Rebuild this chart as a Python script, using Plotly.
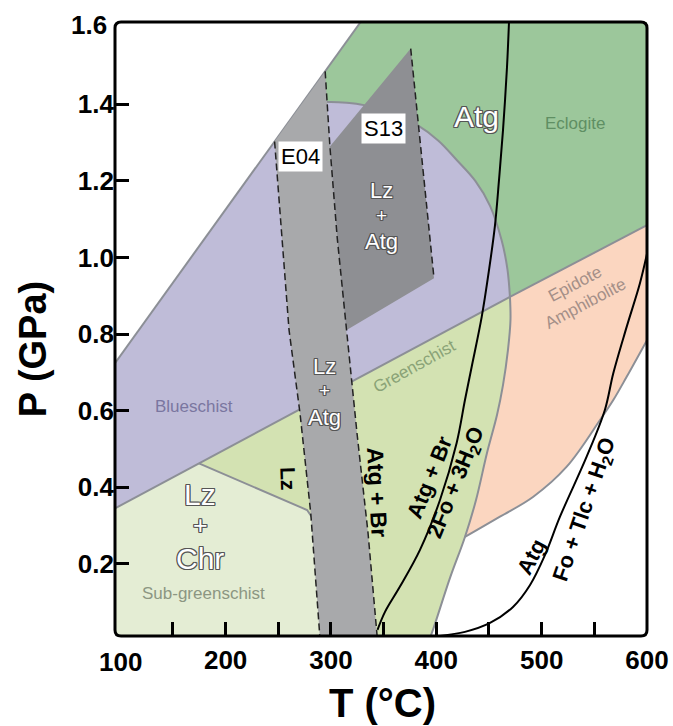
import plotly.graph_objects as go

# ---------------- data (T in degC, P in GPa) ----------------
T_RANGE = [95, 600]
P_RANGE = [0.012, 1.615]

X_TICKS = [150, 200, 250, 300, 350, 400, 450, 500, 550, 600]
X_TICK_TEXT = ["", "200", "", "300", "", "400", "", "500", "", "600"]
Y_TICKS = [0.2, 0.4, 0.6, 0.8, 1.0, 1.2, 1.4]
Y_TICK_TEXT = ["0.2", "0.4", "0.6", "0.8", "1.0", "1.2", "1.4"]

# upper-left limit of the facies fields
WHITE_LINE_T = [95, 328.2]
WHITE_LINE_P = [0.7245, 1.615]

# blueschist / eclogite dome
DOME_T = [270, 285, 297.8, 315, 331.4, 355, 382.5, 402, 419.6, 437, 451, 462, 467.5, 469.9]
DOME_P = [1.393, 1.403, 1.406, 1.404, 1.398, 1.38, 1.345, 1.305, 1.254, 1.20, 1.135, 1.045, 0.97, 0.8975]

# blueschist / greenschist boundary
BLUE_LOW_T = [95, 174.7, 469.9]
BLUE_LOW_P = [0.345, 0.4625, 0.8975]

# eclogite / epidote amphibolite boundary
ECL_EA_T = [469.9, 600]
ECL_EA_P = [0.8975, 1.0845]

# greenschist / epidote amphibolite boundary
GS_RIGHT_T = [469.9, 470.4, 468, 463.3, 457.6, 448.1, 437.7, 427.2, 413, 396.8, 393]
GS_RIGHT_P = [0.8975, 0.8367, 0.7584, 0.6671, 0.5888, 0.4897, 0.3671, 0.2706, 0.1637, 0.0279, 0.0]

# lower limit of epidote amphibolite
EA_LOW_T = [600, 580.7, 568, 555.4, 523.8, 492.1, 460.4, 427.2]
EA_LOW_P = [0.7845, 0.6888, 0.628, 0.5758, 0.454, 0.3757, 0.3235, 0.2706]

# sub-greenschist / greenschist boundary
SUBGS_T = [174.7, 277.3, 300, 310]
SUBGS_P = [0.4625, 0.341, 0.25, 0.0]

# E04 and S13 Lz + Atg fields
E04L_T = [246.5, 260.2, 270.6, 280.8, 289.2, 289.5]
E04L_P = [1.303, 0.811, 0.594, 0.333, 0.02, 0.0]
E04R_T = [294.5, 299, 306, 314.5, 318.5, 324.7, 335.2, 343.5, 344.2]
E04R_P = [1.486, 1.29, 1.05, 0.81, 0.714, 0.542, 0.281, 0.02, 0.0]
S13_T = [299, 375.7, 397.8, 314.5, 306]
S13_P = [1.29, 1.5455, 0.9463, 0.81, 1.05]

# reactions
ATGBR_T = [469, 467.1, 463.3, 459.5, 455.7, 450.0, 443.1, 433.6, 427.2, 419.3, 403.5, 384.5, 365.5, 351.3, 344.2]
ATGBR_P = [1.615, 1.497, 1.332, 1.202, 1.084, 0.967, 0.845, 0.715, 0.628, 0.516, 0.367, 0.237, 0.141, 0.075, 0.028]
FOTLC_T = [600, 593.3, 580.7, 568, 560, 542.7, 517.4, 503.2, 489.0, 472.8, 451.0, 427.2, 403.5]
FOTLC_P = [1.01, 0.933, 0.819, 0.698, 0.602, 0.48, 0.3235, 0.2236, 0.1453, 0.0879, 0.046, 0.0227, 0.0123]

# ---------------- styles ----------------
FONT = "Liberation Sans, Arial, sans-serif"
C_BLUE = "#bfbcd8"
C_ECL = "#9cc79b"
C_GS = "#d3e2b2"
C_SUB = "#e4edd4"
C_EA = "#fbd6c0"
C_E04 = "#a8a9ab"
C_S13 = "#8e8f93"
C_BND = "#8c8f96"
OUTLINE = ("1px 1px 0 #555, -1px -1px 0 #555, 1px -1px 0 #555, -1px 1px 0 #555, "
           "0 1px 0 #555, 0 -1px 0 #555, 1px 0 0 #555, -1px 0 0 #555")

fig = go.Figure()


def fill(t, p, color):
    fig.add_trace(go.Scatter(x=t, y=p, mode="lines", fill="toself", fillcolor=color,
                             line=dict(width=0, color=color), hoverinfo="skip", showlegend=False))


def line(t, p, color, width=2, dash=None, shape="linear"):
    fig.add_trace(go.Scatter(x=t, y=p, mode="lines",
                             line=dict(color=color, width=width, dash=dash, shape=shape),
                             hoverinfo="skip", showlegend=False))


# facies fields
fill([WHITE_LINE_T[0]] + DOME_T + [BLUE_LOW_T[0]], [WHITE_LINE_P[0]] + DOME_P + [BLUE_LOW_P[0]], C_BLUE)
fill([WHITE_LINE_T[1], T_RANGE[1], T_RANGE[1]] + DOME_T[::-1],
     [WHITE_LINE_P[1], P_RANGE[1], ECL_EA_P[1]] + DOME_P[::-1], C_ECL)
fill(ECL_EA_T + EA_LOW_T + GS_RIGHT_T[6::-1], ECL_EA_P + EA_LOW_P + GS_RIGHT_P[6::-1], C_EA)
fill(BLUE_LOW_T[1:] + GS_RIGHT_T[1:] + SUBGS_T[::-1], BLUE_LOW_P[1:] + GS_RIGHT_P[1:] + SUBGS_P[::-1], C_GS)
fill([BLUE_LOW_T[0], BLUE_LOW_T[0]] + SUBGS_T, [0.0, BLUE_LOW_P[0]] + SUBGS_P, C_SUB)

# facies boundaries
line(WHITE_LINE_T, WHITE_LINE_P, C_BND)
line(DOME_T, DOME_P, C_BND, shape="spline")
line(BLUE_LOW_T, BLUE_LOW_P, C_BND)
line(ECL_EA_T, ECL_EA_P, C_BND)
line(GS_RIGHT_T, GS_RIGHT_P, C_BND, shape="spline")
line(EA_LOW_T, EA_LOW_P, C_BND, shape="spline")
line(SUBGS_T, SUBGS_P, C_BND)

# Lz + Atg fields
fill(E04L_T + E04R_T[::-1], E04L_P + E04R_P[::-1], C_E04)
fill(S13_T, S13_P, C_S13)
line(E04L_T, E04L_P, "#222", width=1.5, dash="7px,4px")
line(E04R_T, E04R_P, "#222", width=1.5, dash="7px,4px")
line(S13_T[1:3], S13_P[1:3], "#222", width=1.5, dash="7px,4px")

# reactions
line(ATGBR_T, ATGBR_P, "black", width=2, shape="spline")
line(FOTLC_T, FOTLC_P, "black", width=2, shape="spline")

# ---------------- annotations ----------------
ann = []


def txt(x, y, s, size, color="black", angle=0, weight="normal", shadow=None, bg=None, xref="x", yref="y",
        xanchor="center", yanchor="middle"):
    f = dict(family=FONT, size=size, color=color, weight=weight)
    if shadow:
        f["shadow"] = shadow
    d = dict(x=x, y=y, xref=xref, yref=yref, text=s, showarrow=False, font=f, textangle=angle,
             xanchor=xanchor, yanchor=yanchor)
    if bg:
        d["bgcolor"] = bg
        d["borderpad"] = 2
    ann.append(d)


# region names
txt(531.6, 1.35, "Eclogite", 17, "#5f8f63")
txt(537.0, 0.905, "Epidote<br>Amphibolite", 17, "#a48f88", angle=-28)
txt(379.1, 0.715, "Greenschist", 17, "#8aa377", angle=-29)
txt(169.6, 0.6105, "Blueschist", 17, "#7a76a0")
txt(179.1, 0.1218, "Sub-greenschist", 17, "#8c9682")

# outlined labels
txt(438.0, 1.367, "Atg", 30, "white", shadow=OUTLINE)
for s, p, sz in zip(["Lz", "+", "Chr"], [0.381, 0.3019, 0.214], [30, 25, 30]):
    txt(175.7, p, s, sz, "white", shadow=OUTLINE)
for s, p, sz in zip(["Lz", "+", "Atg"], [0.716, 0.6522, 0.582], [22, 19, 22]):
    txt(293.9, p, s, sz, "white", shadow=OUTLINE)
for s, p, sz in zip(["Lz", "+", "Atg"], [1.174, 1.1088, 1.042], [22, 19, 22]):
    txt(348.4, p, s, sz, "white", shadow=OUTLINE)

# sample labels
txt(271.1, 1.263, "E04", 22, "black", bg="white")
txt(350.3, 1.3376, "S13", 22, "black", bg="white")

# reaction labels
txt(259.5, 0.4237, "Lz", 21, weight="bold", angle=88)
txt(344.2, 0.3887, "Atg + Br", 23, weight="bold", angle=87)
txt(394.0, 0.4279, "Atg + Br", 22, weight="bold", angle=-68)
txt(419.3, 0.4107, "2Fo + 3H<sub>2</sub>O", 22, weight="bold", angle=-68)
txt(490.5, 0.2192, "Atg", 22, weight="bold", angle=-62)
txt(541.1, 0.341, "Fo + Tlc + H<sub>2</sub>O", 22, weight="bold", angle=-71)

# axis labels at the corners and axis titles
txt(100, -0.0423, "100", 26, weight="bold", yref="paper")
txt(-0.0113, 1.607, "1.6", 26, weight="bold", xref="paper", xanchor="right")
txt(-0.154, 0.467, "P (GPa)", 38, weight="bold", angle=-90, xref="paper", yref="paper")
txt(0.502, -0.109, "T (°C)", 40, weight="bold", xref="paper", yref="paper")

axis_common = dict(showline=False, ticks="inside", ticklen=14, tickwidth=3, tickcolor="black",
                   showgrid=False, zeroline=False, automargin=False,
                   tickfont=dict(family=FONT, size=26, color="black", weight="bold"))

# rounded plot frame (paper coordinates)
RX, RY = 6 / 532, 6 / 614
frame_path = (f"M {RX},0 L {1 - RX},0 Q 1,0 1,{RY} L 1,{1 - RY} Q 1,1 {1 - RX},1 "
              f"L {RX},1 Q 0,1 0,{1 - RY} L 0,{RY} Q 0,0 {RX},0 Z")

fig.update_layout(
    template="none",
    width=673, height=726, autosize=False,
    margin=dict(l=115, r=26, t=22, b=90, autoexpand=False),
    paper_bgcolor="white", plot_bgcolor="white",
    showlegend=False,
    annotations=ann,
    shapes=[dict(type="path", xref="paper", yref="paper", path=frame_path,
                 line=dict(color="black", width=3), layer="above")],
    xaxis=dict(range=T_RANGE, tickmode="array", tickvals=X_TICKS, ticktext=X_TICK_TEXT,
               ticklabelstandoff=6, **axis_common),
    yaxis=dict(range=P_RANGE, tickmode="array", tickvals=Y_TICKS, ticktext=Y_TICK_TEXT, **axis_common),
)

fig.write_html("out.html", config={"displayModeBar": False},
               post_script="document.body.style.margin='0';document.body.style.overflow='hidden';")
